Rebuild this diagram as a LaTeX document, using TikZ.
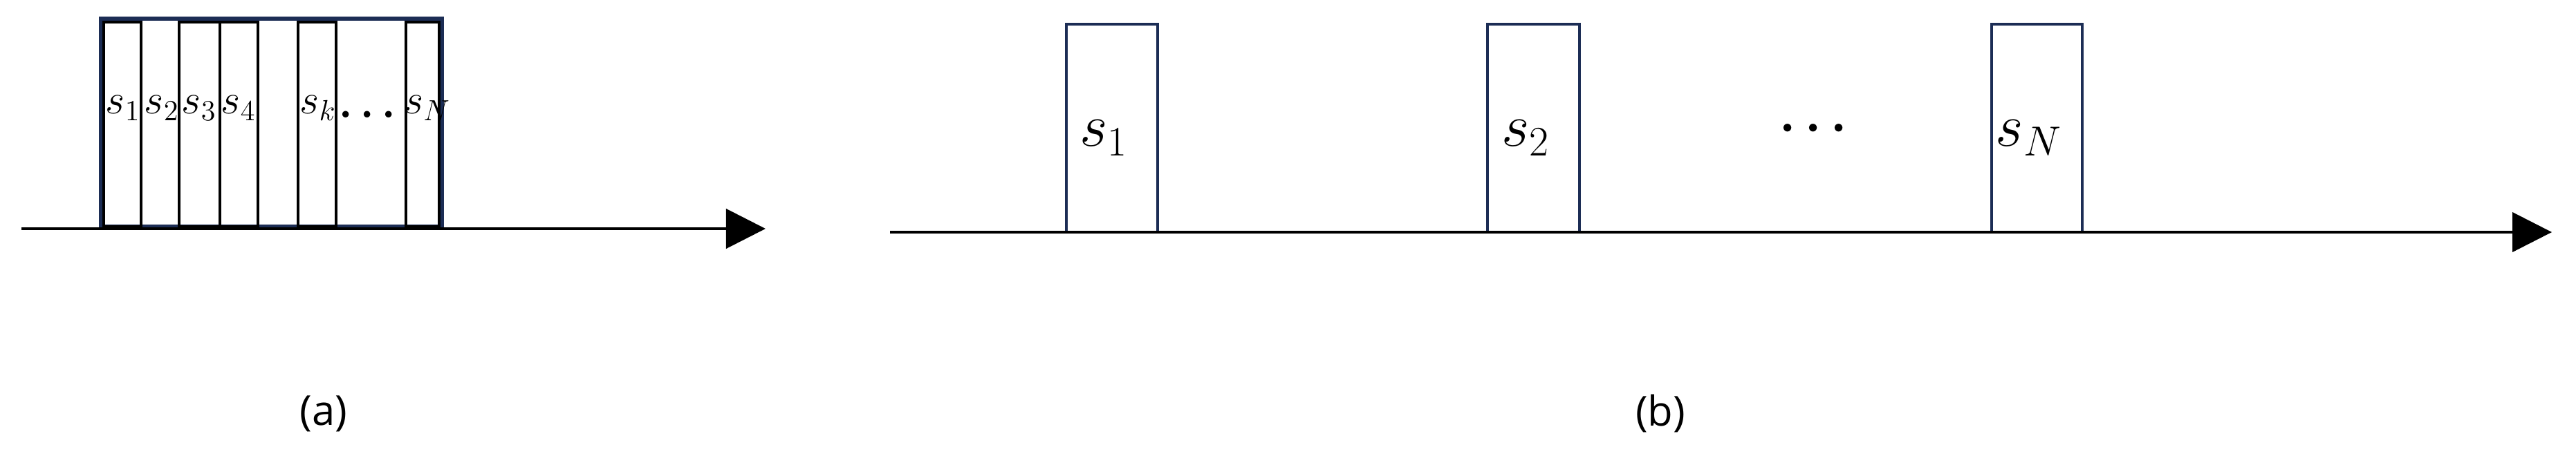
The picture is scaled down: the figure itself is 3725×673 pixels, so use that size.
\documentclass[tikz,border=0pt]{standalone}
\usepackage{fontspec}
\newfontfamily\capfont{Open Sans}
\usetikzlibrary{arrows.meta}
\definecolor{boxNavy}{RGB}{28,45,85}

\tikzset{
	axisLine/.style={black, line width=0.04cm, -{Triangle[length=0.57cm, width=0.57cm]}},
	symA/.style={font=\fontsize{18}{20}\selectfont, inner sep=0pt, anchor=base},
	symB/.style={font=\fontsize{24}{28}\selectfont, inner sep=0pt, anchor=base},
	capLabel/.style={font=\capfont\fontsize{17}{20}\selectfont, inner sep=0pt}
}

\begin{document}
\begin{tikzpicture}[x=0.01cm, y=-0.01cm]

	%picture size in pixels of the original
	\useasboundingbox (0,0) rectangle (3725,673);

	%declare constants
	\def\baseA{165}
	\def\baseB{212}

	%packed symbols, left panel
	\begin{scope}
		\coordinate (axisAStart) at (31,331);
		\coordinate (axisAEnd) at (1107,331);
		\coordinate (frameNW) at (146,27);
		\coordinate (frameSE) at (639,328);
		%outer frame
		\draw[boxNavy, line width=0.06cm] (frameNW) rectangle (frameSE);
		%symbol cells, the gaps between them make the other cells
		\foreach \lft/\rgt in {150/204, 259/318, 318/373, 431/486, 587/635}
			\draw[black, line width=0.04cm] (\lft,32) rectangle (\rgt,328);
		%time axis
		\draw[axisLine] (axisAStart) -- (axisAEnd);
		%symbol labels
		\node[symA] (symA1) at (178,\baseA) {$s_1$};
		\node[symA] (symA2) at (234,\baseA) {$s_2$};
		\node[symA] (symA3) at (288,\baseA) {$s_3$};
		\node[symA] (symA4) at (345,\baseA) {$s_4$};
		\node[symA] (symAk) at (460,\baseA) {$s_k$};
		\node[symA, font=\fontsize{19}{20}\selectfont\boldmath] (dotsA) at (531,171) {$\ldots$};
		\node[symA] (symAN) at (618,\baseA) {$s_N$};
		\node[capLabel] (capA) at (468,599) {(a)};
	\end{scope}

	%spread symbols, right panel
	\begin{scope}
		\coordinate (axisBStart) at (1287,336);
		\coordinate (axisBEnd) at (3690,336);
		%symbol boxes
		\foreach \lft/\rgt in {1542/1674, 2151/2284, 2880/3011}
			\draw[boxNavy, line width=0.04cm] (\lft,35) rectangle (\rgt,336);
		%time axis
		\draw[axisLine] (axisBStart) -- (axisBEnd);
		%symbol labels
		\node[symB] (symB1) at (1596,\baseB) {$s_1$};
		\node[symB] (symB2) at (2206,\baseB) {$s_2$};
		\node[symB, font=\fontsize{20}{24}\selectfont\boldmath] (dotsB) at (2622,203) {$\cdots$};
		\node[symB] (symBN) at (2934,\baseB) {$s_N$};
		\node[capLabel] (capB) at (2401,599) {(b)};
	\end{scope}

\end{tikzpicture}
\end{document}
